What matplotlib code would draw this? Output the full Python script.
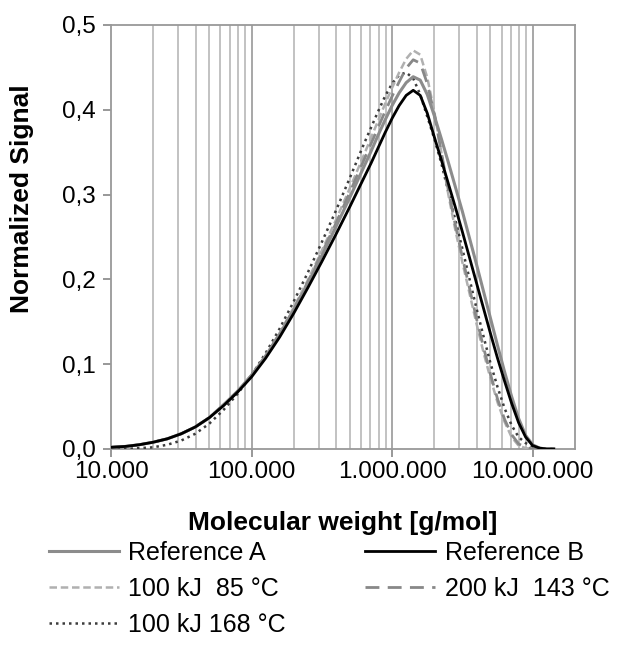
import numpy as np
import matplotlib.pyplot as plt
from matplotlib.ticker import FixedLocator, FuncFormatter, NullFormatter

plt.rcParams['font.family'] = ['Liberation Sans', 'DejaVu Sans']

# log10 of molecular weight [g/mol]
log_mw = [4.0, 4.1, 4.2, 4.3, 4.4, 4.5, 4.6, 4.7, 4.8, 4.9, 5.0, 5.1, 5.2, 5.3,
          5.4, 5.5, 5.6, 5.7, 5.8, 5.85, 5.9, 5.95, 6.0, 6.05, 6.1, 6.15, 6.2,
          6.25, 6.3, 6.35, 6.4, 6.45, 6.5, 6.55, 6.6, 6.65, 6.7, 6.75, 6.8,
          6.85, 6.9, 6.95, 7.0, 7.05, 7.1, 7.15]

ref_a = [0.002, 0.003, 0.005, 0.008, 0.012, 0.018, 0.026, 0.037, 0.052, 0.068,
         0.087, 0.109, 0.135, 0.164, 0.195, 0.228, 0.262, 0.297, 0.333, 0.351,
         0.370, 0.388, 0.405, 0.420, 0.432, 0.439, 0.435, 0.418, 0.393, 0.366,
         0.338, 0.309, 0.280, 0.249, 0.218, 0.186, 0.154, 0.122, 0.091, 0.062,
         0.036, 0.016, 0.005, 0.001, 0.0, 0.0]
ref_b = [0.002, 0.003, 0.005, 0.008, 0.012, 0.018, 0.026, 0.037, 0.051, 0.067,
         0.085, 0.107, 0.132, 0.160, 0.190, 0.221, 0.253, 0.286, 0.320, 0.337,
         0.355, 0.373, 0.390, 0.405, 0.417, 0.423, 0.417, 0.396, 0.368, 0.341,
         0.313, 0.285, 0.256, 0.226, 0.196, 0.166, 0.136, 0.107, 0.080, 0.054,
         0.031, 0.014, 0.004, 0.001, 0.0, 0.0]
kj100_85 = [0.002, 0.003, 0.005, 0.008, 0.012, 0.018, 0.026, 0.037, 0.052, 0.068,
            0.087, 0.110, 0.137, 0.167, 0.199, 0.234, 0.270, 0.308, 0.347, 0.367,
            0.387, 0.407, 0.426, 0.444, 0.460, 0.470, 0.465, 0.438, 0.398, 0.350,
            0.300, 0.258, 0.220, 0.184, 0.148, 0.114, 0.083, 0.055, 0.032, 0.014,
            0.004, 0.001, 0.0, 0.0, 0.0, 0.0]
kj200_143 = [0.002, 0.003, 0.005, 0.008, 0.012, 0.018, 0.026, 0.037, 0.052, 0.068,
             0.087, 0.110, 0.136, 0.165, 0.197, 0.231, 0.266, 0.303, 0.341, 0.360,
             0.379, 0.398, 0.416, 0.433, 0.449, 0.459, 0.455, 0.431, 0.395, 0.350,
             0.305, 0.264, 0.226, 0.190, 0.154, 0.120, 0.088, 0.059, 0.035, 0.017,
             0.006, 0.002, 0.0, 0.0, 0.0, 0.0]
kj100_168 = [0.0, 0.0, 0.001, 0.002, 0.005, 0.010, 0.018, 0.030, 0.046, 0.065,
             0.087, 0.113, 0.142, 0.174, 0.208, 0.244, 0.281, 0.320, 0.360, 0.379,
             0.398, 0.416, 0.431, 0.441, 0.444, 0.437, 0.418, 0.392, 0.366, 0.337,
             0.303, 0.270, 0.236, 0.201, 0.166, 0.133, 0.101, 0.073, 0.048, 0.028,
             0.014, 0.007, 0.003, 0.001, 0.0, 0.0]

x_ticks = [1e4, 1e5, 1e6, 1e7]
x_labels = ['10.000', '100.000', '1.000.000', '10.000.000']
y_ticks = [0.0, 0.1, 0.2, 0.3, 0.4, 0.5]

mw = 10 ** np.array(log_mw)

fig = plt.figure(figsize=(6.2, 6.72), dpi=100)
ax = fig.add_axes([111 / 620, 1 - 449 / 672, 464 / 620, 424 / 672])

# grid first so curves sit on top
minor = [m * 10 ** d for d in range(4, 8) for m in range(2, 10) if m * 10 ** d < 2e7]
for xm in minor:
    ax.axvline(xm, color='#bdbdbd', lw=1.3, zorder=0)
for xm in x_ticks[1:]:
    ax.axvline(xm, color='#a0a0a0', lw=1.3, zorder=0)

ax.plot(mw, kj100_168, color='#3c3c3c', lw=1.8, linestyle=(0, (1, 1.6)),
        label='100 kJ 168 °C', zorder=3)
ax.plot(mw, kj100_85, color='#b0b0b0', lw=1.8, linestyle=(0, (3, 1.5)),
        label='100 kJ  85 °C', zorder=3)
ax.plot(mw, kj200_143, color='#888888', lw=2.0, linestyle=(0, (5, 3)),
        label='200 kJ  143 °C', zorder=3)
ax.plot(mw, ref_a, color='#8c8c8c', lw=2.2, label='Reference A', zorder=4)
ax.plot(mw, ref_b, color='black', lw=2.0, label='Reference B', zorder=5)

ax.set_xscale('log')
ax.set_xlim(1e4, 2e7)
ax.set_ylim(0, 0.5)

ax.xaxis.set_major_locator(FixedLocator(x_ticks))
ax.set_xticklabels(x_labels)
ax.xaxis.set_minor_locator(FixedLocator([]))
ax.xaxis.set_minor_formatter(NullFormatter())
ax.set_yticks(y_ticks)
ax.yaxis.set_major_formatter(FuncFormatter(lambda v, p: f'{v:.1f}'.replace('.', ',')))

ax.tick_params(axis='both', labelsize=17.5, color='#909090', width=1.3, length=6,
               direction='out')
ax.tick_params(axis='x', pad=3)
ax.tick_params(axis='y', pad=5)
for s in ax.spines.values():
    s.set_color('#999999')
    s.set_linewidth(1.3)

ax.set_xlabel('Molecular weight [g/mol]', fontsize=19, fontweight='bold', labelpad=20)
ax.set_ylabel('Normalized Signal', fontsize=19, fontweight='bold')
ax.yaxis.set_label_coords(-0.165, 0.59)

h, l = ax.get_legend_handles_labels()
order = ['Reference A', '100 kJ  85 °C', '100 kJ 168 °C', 'Reference B', '200 kJ  143 °C']
hl = dict(zip(l, h))
fig.legend([hl[k] for k in order], order, loc='upper left',
           bbox_to_anchor=(26 / 620, 1 - 518 / 672), ncol=2, frameon=False,
           fontsize=18, handlelength=2.8, handletextpad=0.4, columnspacing=3.15,
           labelspacing=0.49)

fig.savefig('out.png', dpi=100)
